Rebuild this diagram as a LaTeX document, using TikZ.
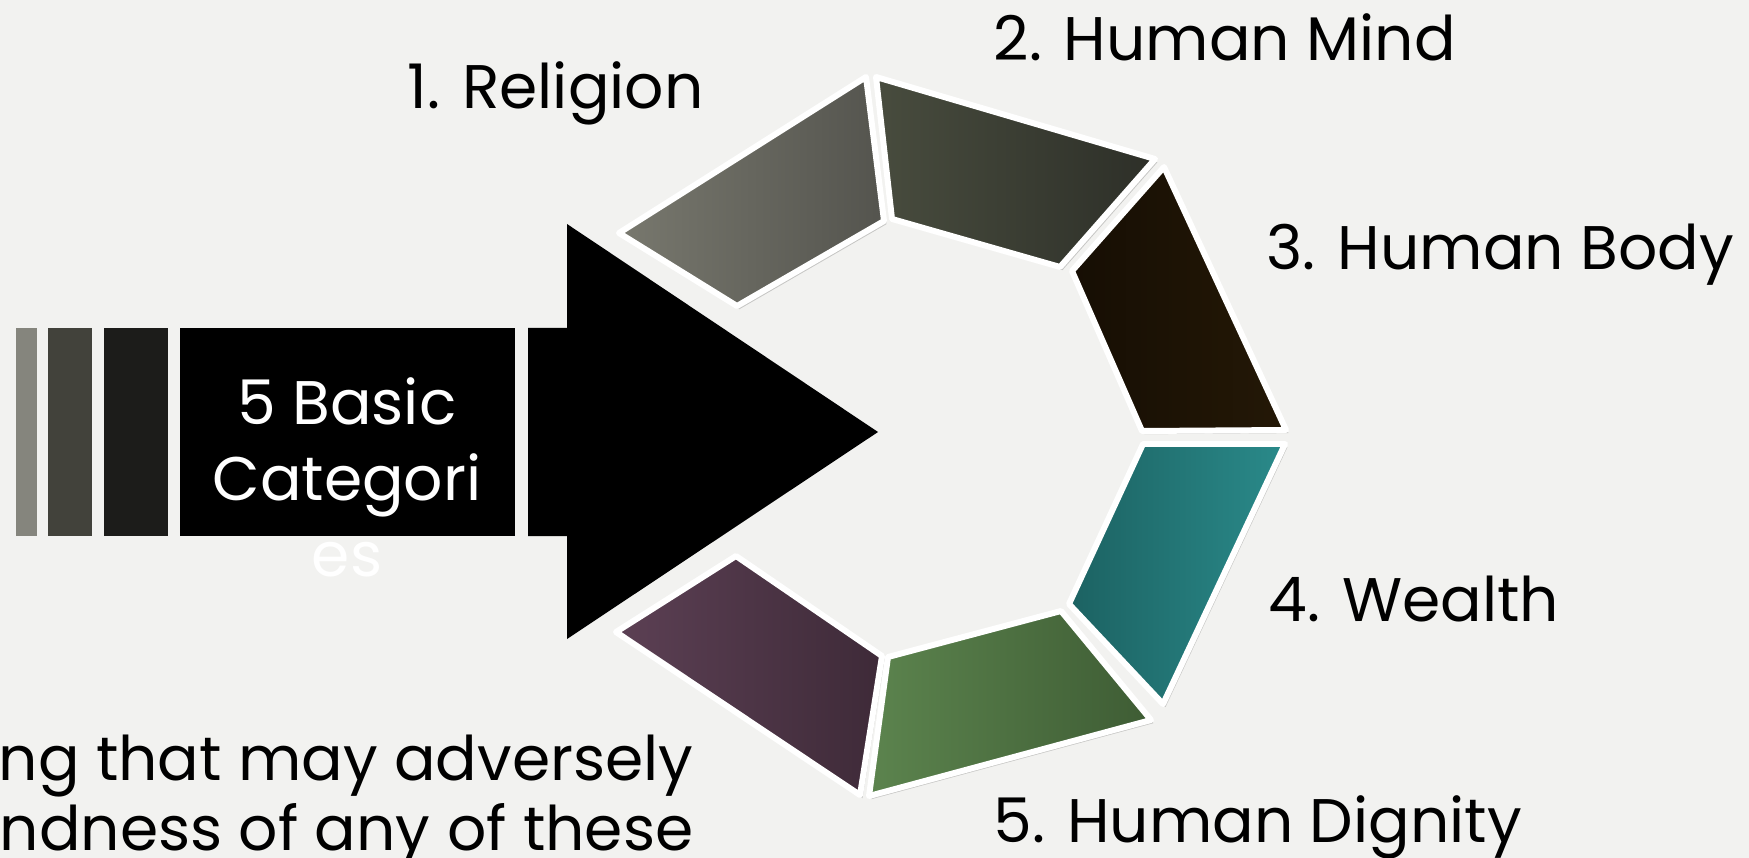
\documentclass[tikz,border=0pt]{standalone}
\usepackage{fontspec}
\setmainfont{Poppins}
\usetikzlibrary{shadows}

\definecolor{bgcol}{RGB}{242,242,240}
\definecolor{barA}{RGB}{133,133,125}
\definecolor{barB}{RGB}{66,66,59}
\definecolor{barC}{RGB}{28,28,26}

\begin{document}
\begin{tikzpicture}[x=0.01cm, y=-0.01cm, line join=round,
    seg/.style={draw=white, line width=1.7pt,
        drop shadow={shadow xshift=0.7pt, shadow yshift=-0.9pt, opacity=0.18, fill=black}},
    lbl/.style={anchor=base west, inner sep=0pt, font=\fontsize{17.5}{21.6}\selectfont},
    cut/.style={anchor=base east, inner sep=0pt, font=\fontsize{17.5}{21.6}\selectfont}]

    % background
    \useasboundingbox (0,0) rectangle (1749,858);
    \fill[bgcol] (0,0) rectangle (1749,858);

    % bars on the left
    \fill[barA] (16,328) rectangle (37,536);
    \fill[barB] (48,328) rectangle (92,536);
    \fill[barC] (104,328) rectangle (168,536);
    \fill[black] (180,328) rectangle (515,536);

    % arrow
    \fill[black] (528,328) -- (567,328) -- (567,224) -- (878,432)
        -- (567,639) -- (567,536) -- (528,536) -- cycle;

    \node[anchor=north, inner sep=0pt, align=center, text=white,
        font=\fontsize{17.5}{21.6}\selectfont] (basic) at (347,377)
        {5 Basic\\Categori\\es};

    % segments
    \shade[seg, left color={rgb,255:red,120;green,120;blue,110}, right color={rgb,255:red,84;green,84;blue,78}]
        (619,233) -- (866,77) -- (884,221) -- (737,306) -- cycle;
    \shade[seg, left color={rgb,255:red,72;green,76;blue,62}, right color={rgb,255:red,45;green,47;blue,40}]
        (876,77) -- (1155,159) -- (1060,267) -- (892,219) -- cycle;
    \shade[seg, left color={rgb,255:red,22;green,14;blue,4}, right color={rgb,255:red,36;green,24;blue,6}]
        (1164,167) -- (1286,430) -- (1142,431) -- (1072,271) -- cycle;
    \shade[seg, left color={rgb,255:red,28;green,98;blue,98}, right color={rgb,255:red,42;green,138;blue,138}]
        (1143,444) -- (1285,444) -- (1163,704) -- (1069,604) -- cycle;
    \shade[seg, left color={rgb,255:red,92;green,132;blue,78}, right color={rgb,255:red,62;green,92;blue,52}]
        (1061,611) -- (1151,720) -- (869,796) -- (888,657) -- cycle;
    \shade[seg, left color={rgb,255:red,92;green,64;blue,84}, right color={rgb,255:red,62;green,42;blue,56}]
        (736,556) -- (882,656) -- (860,795) -- (616,632) -- cycle;

    % labels
    \node[lbl] (religion) at (407,109) {1. Religion};
    \node[lbl] (mind) at (993,61) {2. Human Mind};
    \node[lbl] (body) at (1266,270) {3. Human Body};
    \node[lbl] (wealth) at (1268,621) {4. Wealth};
    \node[lbl] (dignity) at (993,842) {5. Human Dignity};

    % cut-off text at the bottom
    \node[cut] (lineA) at (694,780) {ng that may adversely};
    \node[cut] (lineB) at (694,850) {ndness of any of these};
\end{tikzpicture}
\end{document}
